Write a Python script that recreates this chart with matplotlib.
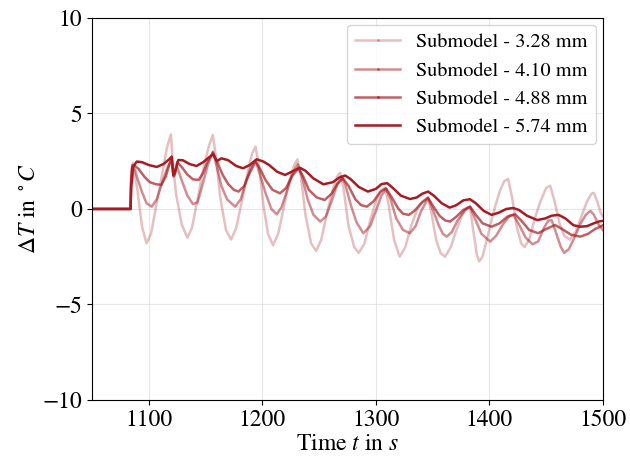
import numpy as np
import matplotlib
matplotlib.use("Agg")
import matplotlib.pyplot as plt

# values (time in s, delta T in deg C)
t_328 = [1050, 1084, 1084.5, 1086, 1090, 1094, 1098, 1102, 1107, 1112, 1116, 1119.5, 1121, 1124, 1129, 1134,
         1138, 1143, 1148, 1153, 1156.5, 1159, 1163, 1168, 1172.5, 1177, 1182, 1187, 1191, 1194, 1197, 1201,
         1205, 1209.5, 1214, 1219, 1224, 1228, 1231, 1234, 1238, 1243, 1247.5, 1252, 1257, 1262, 1266, 1268.5,
         1271.5, 1276, 1281, 1285, 1290, 1295, 1300, 1305, 1308, 1311, 1316, 1321, 1326, 1331, 1336, 1341,
         1346, 1349, 1353, 1357, 1361, 1366, 1371, 1376, 1380, 1383, 1386, 1389, 1391, 1394, 1399, 1404,
         1409, 1413, 1416.5, 1420, 1424, 1428, 1431, 1435, 1440, 1445, 1450, 1453.5, 1457, 1462, 1466, 1471,
         1476, 1481, 1486, 1490, 1492, 1495, 1498, 1500]
dT_328 = [0, 0, 1.8, 2.4, 1.0, -0.9, -1.8, -1.3, 0.3, 1.9, 3.2, 3.9, 2.6, 0.8, -0.8, -1.5,
          -1.0, 0.5, 2.1, 3.3, 3.87, 2.8, 0.6, -1.1, -1.6, -1.0, 0.4, 1.9, 2.9, 3.26, 2.3, 0.2,
          -1.3, -1.9, -1.3, 0.1, 1.5, 2.3, 2.6, 1.7, -0.3, -1.8, -2.2, -1.6, -0.2, 1.0, 1.7, 1.9,
          1.1, -0.9, -2.0, -2.3, -1.8, -0.6, 0.4, 1.0, 1.1, 0.3, -1.6, -2.5, -2.0, -0.9, -0.1, 0.4,
          0.62, -0.2, -1.6, -2.3, -2.5, -2.0, -1.1, -0.3, 0.05, 0.1, -1.2, -2.4, -2.75, -2.5, -1.3, -0.1,
          0.9, 1.45, 1.57, 0.6, -0.9, -1.8, -2.0, -1.6, -0.5, 0.4, 1.1, 1.22, 0.5, -0.8, -1.4, -1.6,
          -1.2, -0.4, 0.4, 0.8, 0.85, 0.4, -0.2, -0.4]

t_410 = [1050, 1084, 1084.5, 1085.5, 1087, 1090, 1094, 1098, 1102.6, 1107, 1112, 1116, 1120, 1121.7, 1123, 1125,
         1129, 1134, 1139, 1143, 1147, 1152, 1156.5, 1160, 1164, 1169, 1176, 1181, 1186, 1190, 1194, 1198,
         1203, 1208, 1212.7, 1217, 1222, 1227, 1231, 1235, 1240, 1245, 1251, 1256, 1261, 1266, 1270, 1273,
         1278, 1283, 1289, 1295, 1300, 1305, 1309, 1313, 1318, 1324, 1330, 1335, 1340, 1346, 1350, 1355,
         1359, 1362.5, 1367, 1372, 1378, 1383, 1388, 1393, 1400.7, 1406, 1412, 1418, 1421, 1426, 1432, 1438,
         1443, 1448, 1452, 1455, 1459, 1463, 1466, 1470, 1475, 1480, 1485, 1489, 1492, 1496, 1500]
dT_410 = [0, 0, 1.6, 2.3, 2.2, 1.6, 0.9, 0.3, 0.12, 0.5, 1.4, 2.1, 2.6, 1.8, 2.0, 2.2,
          1.5, 0.7, 0.25, 0.35, 1.2, 2.3, 3.0, 2.2, 1.2, 0.5, 0.12, 0.5, 1.5, 2.2, 2.55, 1.8,
          0.8, 0.0, -0.28, 0.1, 1.0, 1.9, 2.34, 1.7, 0.5, -0.3, -0.66, -0.4, 0.4, 1.3, 1.7, 1.3,
          0.2, -0.7, -1.27, -0.9, -0.1, 0.7, 1.05, 0.5, -0.5, -1.1, -1.27, -0.9, -0.1, 0.56, 0.0, -0.8,
          -1.3, -1.45, -1.2, -0.6, -0.1, 0.12, -0.6, -1.3, -1.71, -1.4, -0.8, -0.35, -0.3, -0.8, -1.5, -1.85,
          -1.7, -1.0, -0.6, -0.6, -1.3, -2.0, -2.3, -2.1, -1.5, -0.8, -0.3, -0.1, -0.3, -0.8, -1.1]

t_488 = [1050, 1084, 1084.5, 1085.5, 1087, 1091, 1096, 1101, 1106, 1111, 1115, 1118, 1120.2, 1121.7, 1123, 1125,
         1129, 1134, 1139, 1144, 1148, 1152, 1156.5, 1160, 1165, 1170, 1175, 1179, 1184, 1189, 1194, 1198,
         1203, 1209, 1215.6, 1221, 1226, 1231.8, 1236, 1241, 1248, 1255, 1261, 1266, 1271, 1276, 1282, 1287,
         1292, 1298, 1304, 1309, 1314, 1320, 1324, 1329, 1334, 1340, 1346, 1351, 1356, 1361, 1365.4, 1371,
         1377, 1383, 1388, 1394, 1402, 1409, 1416, 1422.7, 1428, 1435, 1443, 1450, 1457.9, 1464, 1472, 1480,
         1487, 1493, 1497.6, 1500]
dT_488 = [0, 0, 1.5, 2.2, 2.3, 2.1, 1.7, 1.4, 1.3, 1.26, 1.7, 2.3, 2.65, 1.7, 1.8, 2.45,
          2.2, 1.8, 1.55, 1.52, 1.9, 2.5, 2.95, 2.5, 1.8, 1.3, 1.0, 0.91, 1.2, 1.9, 2.48, 2.1,
          1.5, 1.0, 0.82, 1.1, 1.7, 2.13, 1.7, 1.0, 0.6, 0.47, 0.8, 1.3, 1.6, 1.2, 0.5, 0.2,
          0.12, 0.4, 0.9, 1.08, 0.6, 0.0, -0.25, -0.31, -0.1, 0.3, 0.58, 0.1, -0.35, -0.6, -0.66, -0.4,
          -0.05, 0.12, -0.3, -0.75, -0.93, -0.75, -0.4, -0.28, -0.6, -1.1, -1.27, -1.05, -0.84, -1.05, -1.35, -1.45,
          -1.3, -1.05, -0.93, -0.85]

t_574 = [1050, 1084, 1084.5, 1085.5, 1086, 1089.5, 1094, 1100, 1107, 1113, 1118, 1120.2, 1121.7, 1123, 1126, 1130,
         1136, 1142, 1148, 1153, 1156.9, 1159.8, 1164, 1170, 1177, 1183, 1189, 1195, 1201, 1206, 1213, 1220,
         1227, 1233, 1238, 1245, 1253.8, 1262, 1268, 1273, 1278, 1285, 1293, 1300, 1305, 1310, 1315, 1322,
         1330, 1336, 1341, 1346, 1351, 1358, 1365, 1371, 1377, 1383, 1388, 1395, 1402, 1408, 1415, 1421,
         1426, 1433, 1442, 1449, 1455, 1461, 1467, 1474, 1480, 1486, 1492, 1497, 1500]
dT_574 = [0, 0, 1.2, 1.6, 2.2, 2.48, 2.45, 2.3, 2.2, 2.35, 2.6, 2.74, 1.78, 1.9, 2.56, 2.55,
          2.35, 2.25, 2.45, 2.7, 2.86, 2.5, 2.65, 2.55, 2.25, 2.13, 2.3, 2.6, 2.48, 2.3, 1.95, 1.78,
          1.98, 2.16, 2.0, 1.6, 1.29, 1.4, 1.65, 1.75, 1.55, 1.15, 0.91, 1.05, 1.3, 1.35, 1.1, 0.7,
          0.52, 0.6, 0.8, 0.91, 0.7, 0.3, 0.07, 0.2, 0.45, 0.51, 0.3, -0.1, -0.31, -0.2, 0.0, 0.05,
          -0.05, -0.35, -0.58, -0.5, -0.35, -0.31, -0.5, -0.85, -0.93, -0.9, -0.75, -0.65, -0.62]

labels = ["Submodel - 3.28 mm", "Submodel - 4.10 mm", "Submodel - 4.88 mm", "Submodel - 5.74 mm"]
series = [(t_328, dT_328), (t_410, dT_410), (t_488, dT_488), (t_574, dT_574)]
alphas = [0.28, 0.5, 0.7, 1.0]

plt.rcParams['font.family'] = 'STIXGeneral'
plt.rcParams['mathtext.fontset'] = 'stix'

fig, ax = plt.subplots(figsize=(6.3, 4.59), dpi=100)
fig.subplots_adjust(left=0.146, right=0.957, top=0.961, bottom=0.1285)

red = '#a51c24'
for (t, dT), lab, a in zip(series, labels, alphas):
  mk = '.' if a < 1 else None
  ax.plot(t, dT, color=red, alpha=a, lw=1.8, label=lab, marker=mk, markersize=2, markevery=[])

ax.set_xlim(1050, 1500)
ax.set_ylim(-10, 10)
ax.set_xticks([1100, 1200, 1300, 1400, 1500])
ax.set_yticks([-10, -5, 0, 5, 10])
ax.tick_params(labelsize=17)
ax.grid(True, color='#d0d0d0', alpha=0.5, lw=0.8)
ax.set_xlabel(r'Time $t$ in $s$', fontsize=17, labelpad=2)
ax.set_ylabel(r'$\Delta T$ in $^\circ C$', fontsize=17, labelpad=2)
ax.legend(loc='upper right', fontsize=14.6, handlelength=2.2, borderaxespad=0.35)

fig.savefig('out.png', dpi=100)
